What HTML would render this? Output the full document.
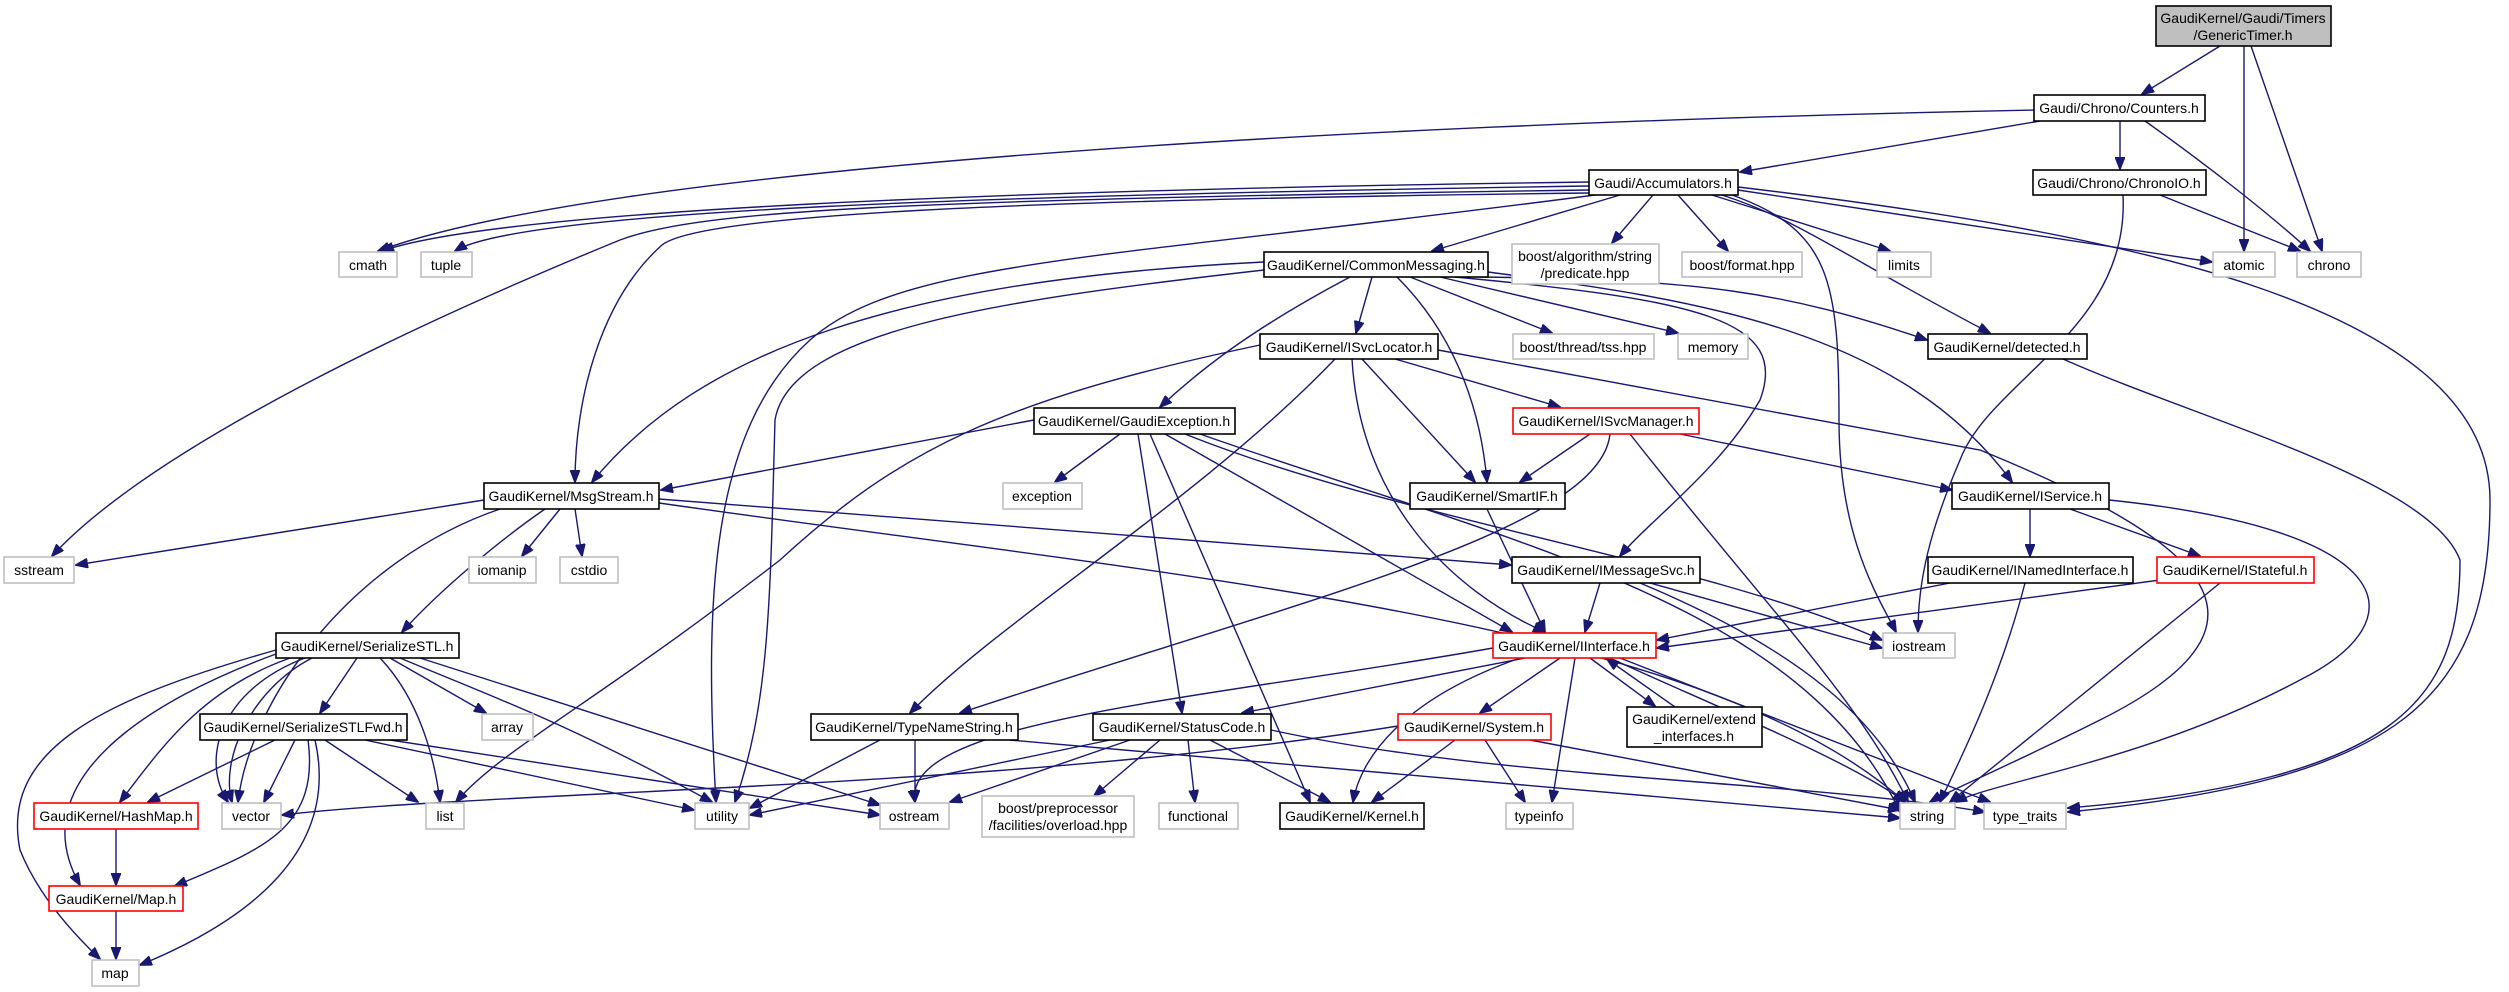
<!DOCTYPE html>
<html><head><meta charset="utf-8">
<style>
html,body{margin:0;padding:0;background:#fff;}
svg{display:block;}
text{font-family:"Liberation Sans",sans-serif;font-size:14px;fill:#000;text-anchor:middle;}
.e{fill:none;stroke:#191970;stroke-width:1.4;marker-end:url(#a);}
.b{fill:#fff;stroke:#000;stroke-width:1.6;}
.g{fill:#fff;stroke:#c0c0c0;stroke-width:1.6;}
.r{fill:#fff;stroke:#ff0000;stroke-width:1.6;}
</style></head>
<body>
<svg width="2509" height="992" viewBox="0 0 2509 992" xmlns="http://www.w3.org/2000/svg">
<defs><marker id="a" markerUnits="userSpaceOnUse" markerWidth="13" markerHeight="10" refX="12" refY="5" orient="auto"><path d="M0,0 L13,5 L0,10 z" fill="#191970" stroke="#191970"/></marker></defs>
<g>
<!-- GenericTimer -->
<path class="e" d="M2220,46 L2142,94"/>
<path class="e" d="M2244,46 L2244,251"/>
<path class="e" d="M2251,46 L2322,251"/>
<!-- Counters -->
<path class="e" d="M2034,110 C1300,125 600,170 378,251"/>
<path class="e" d="M2040,121 L1740,172"/>
<path class="e" d="M2120,121 L2120,169"/>
<path class="e" d="M2145,121 C2200,160 2265,210 2310,251"/>
<!-- ChronoIO -->
<path class="e" d="M2160,195 L2300,251"/>
<path class="e" d="M2123,195 C2130,330 1990,380 1960,460 C1930,530 1918,580 1918,632"/>
<!-- Accumulators -->
<path class="e" d="M1589,182 C1000,190 500,210 382,251"/>
<path class="e" d="M1589,186 C1000,195 520,210 455,251"/>
<path class="e" d="M1589,190 C900,200 700,210 620,240 C400,330 150,450 52,556"/>
<path class="e" d="M1589,193 C1000,200 700,215 662,245 C600,300 575,400 575,482"/>
<path class="e" d="M1595,195 C1100,260 900,260 810,340 C710,430 704,600 716,802"/>
<path class="e" d="M1620,195 L1432,251"/>
<path class="e" d="M1653,195 L1612,243"/>
<path class="e" d="M1678,195 L1728,251"/>
<path class="e" d="M1712,195 L1890,251"/>
<path class="e" d="M1738,190 L2212,262"/>
<path class="e" d="M1738,187 C2100,230 2490,300 2490,500 C2490,700 2400,780 2068,812"/>
<path class="e" d="M1722,195 C1800,220 1850,260 1990,333"/>
<path class="e" d="M1732,195 C1830,230 1839,280 1839,420 C1839,540 1880,600 1896,632"/>
<!-- CommonMessaging -->
<path class="e" d="M1264,262 C900,280 700,350 592,482"/>
<path class="e" d="M1264,270 C1000,300 790,330 775,420 C770,600 770,700 735,802"/>
<path class="e" d="M1372,277 L1356,333"/>
<path class="e" d="M1350,277 C1250,330 1200,370 1160,407"/>
<path class="e" d="M1397,277 C1450,330 1480,400 1487,482"/>
<path class="e" d="M1410,277 L1552,333"/>
<path class="e" d="M1440,277 L1678,333"/>
<path class="e" d="M1455,277 C1700,300 1790,320 1760,400 C1720,470 1650,520 1620,556"/>
<path class="e" d="M1480,277 C1700,280 1780,290 1927,340"/>
<path class="e" d="M1488,272 C1700,300 1900,330 2012,482"/>
<!-- ISvcLocator -->
<path class="e" d="M1260,345 C1000,400 900,450 780,560 C600,700 500,750 456,802"/>
<path class="e" d="M1335,359 C1200,500 1000,620 910,713"/>
<path class="e" d="M1352,359 C1360,500 1450,590 1545,632"/>
<path class="e" d="M1362,359 L1475,482"/>
<path class="e" d="M1395,359 L1560,407"/>
<path class="e" d="M1438,350 L1980,450 C2200,540 2300,620 2100,720 C2000,770 1950,790 1930,802"/>
<!-- GaudiException -->
<path class="e" d="M1034,420 L661,490"/>
<path class="e" d="M1120,434 L1055,482"/>
<path class="e" d="M1138,434 L1182,713"/>
<path class="e" d="M1150,434 L1310,802"/>
<path class="e" d="M1165,434 L1512,632"/>
<path class="e" d="M1185,434 C1400,520 1700,560 1882,640"/>
<path class="e" d="M1200,434 C1500,540 1800,600 1900,812"/>
<!-- ISvcManager -->
<path class="e" d="M1590,434 L1520,482"/>
<path class="e" d="M1680,434 L1952,490"/>
<path class="e" d="M1610,434 C1600,530 1300,600 960,713"/>
<path class="e" d="M1630,434 C1760,600 1860,700 1908,802"/>
<!-- MsgStream -->
<path class="e" d="M484,500 L76,565"/>
<path class="e" d="M500,509 C350,560 250,700 238,802"/>
<path class="e" d="M545,509 C500,540 440,590 402,632"/>
<path class="e" d="M560,509 L522,556"/>
<path class="e" d="M575,509 L582,556"/>
<path class="e" d="M659,499 L1511,565"/>
<path class="e" d="M659,503 C1200,580 1700,620 1905,802"/>
<!-- SmartIF etc -->
<path class="e" d="M1487,509 L1545,632"/>
<path class="e" d="M2030,509 L2030,556"/>
<path class="e" d="M2070,509 L2200,556"/>
<path class="e" d="M2109,500 C2400,530 2420,620 2300,680 C2150,760 2000,780 1955,802"/>
<path class="e" d="M1600,583 L1585,632"/>
<path class="e" d="M1650,583 L1882,648"/>
<path class="e" d="M1640,583 C1800,650 1880,720 1915,802"/>
<path class="e" d="M1950,583 L1657,640"/>
<path class="e" d="M2025,583 C2000,680 1960,760 1940,802"/>
<path class="e" d="M2160,580 L1657,648"/>
<path class="e" d="M2220,583 L1950,802"/>
<path class="e" d="M2063,359 C2200,420 2430,480 2460,560 C2460,700 2400,780 2068,808"/>
<!-- IInterface -->
<path class="e" d="M1493,648 C1200,700 900,720 915,802"/>
<path class="e" d="M1525,658 L1242,713"/>
<path class="e" d="M1560,658 L1480,713"/>
<path class="e" d="M1520,658 C1400,700 1360,760 1353,802"/>
<path class="e" d="M1575,658 L1552,802"/>
<path class="e" d="M1590,658 L1655,706"/>
<path class="e" d="M1675,707 L1607,659"/>
<path class="e" d="M1620,658 L1990,802"/>
<path class="e" d="M1610,658 C1700,700 1850,760 1905,802"/>
<!-- SerializeSTL -->
<path class="e" d="M276,650 C100,700 0,750 20,850 C40,900 80,940 100,959"/>
<path class="e" d="M276,654 C150,700 20,780 80,885"/>
<path class="e" d="M290,658 C200,690 160,750 120,802"/>
<path class="e" d="M305,658 C220,690 200,760 228,802"/>
<path class="e" d="M312,658 C250,690 220,760 232,802"/>
<path class="e" d="M357,658 L320,713"/>
<path class="e" d="M380,658 C420,700 435,760 440,802"/>
<path class="e" d="M390,658 L486,713"/>
<path class="e" d="M400,658 C500,700 560,720 712,802"/>
<path class="e" d="M420,658 L880,805"/>
<!-- SerializeSTLFwd -->
<path class="e" d="M275,740 L148,802"/>
<path class="e" d="M295,740 L264,802"/>
<path class="e" d="M308,740 C320,830 260,850 175,886"/>
<path class="e" d="M315,740 C340,850 250,920 140,965"/>
<path class="e" d="M325,740 L418,802"/>
<path class="e" d="M365,740 L694,810"/>
<path class="e" d="M390,740 L880,815"/>
<path class="e" d="M116,829 L116,885"/>
<path class="e" d="M116,911 L116,959"/>
<!-- TypeNameString, StatusCode, System -->
<path class="e" d="M915,740 L915,802"/>
<path class="e" d="M880,740 L750,808"/>
<path class="e" d="M1010,740 L1900,818"/>
<path class="e" d="M1130,740 L950,802"/>
<path class="e" d="M1110,740 L750,815"/>
<path class="e" d="M1160,740 L1094,796"/>
<path class="e" d="M1188,740 L1195,802"/>
<path class="e" d="M1210,740 L1330,802"/>
<path class="e" d="M1271,730 C1500,780 1800,780 1985,812"/>
<path class="e" d="M1398,726 C1000,790 500,790 282,815"/>
<path class="e" d="M1455,740 L1372,802"/>
<path class="e" d="M1485,740 L1525,802"/>
<path class="e" d="M1530,740 L1900,810"/>
</g>
<g>
<rect x="2156" y="6" width="175" height="40" style="fill:#bfbfbf;stroke:#000;stroke-width:1.6"/>
<text x="2243" y="23">GaudiKernel/Gaudi/Timers</text><text x="2243" y="40">/GenericTimer.h</text>
<rect class="b" x="2034" y="95" width="171" height="26"/><text x="2119" y="113">Gaudi/Chrono/Counters.h</text>
<rect class="b" x="2033" y="170" width="173" height="25"/><text x="2119" y="188">Gaudi/Chrono/ChronoIO.h</text>
<rect class="b" x="1589" y="170" width="149" height="25"/><text x="1663" y="188">Gaudi/Accumulators.h</text>
<rect class="g" x="339" y="252" width="58" height="25"/><text x="368" y="270">cmath</text>
<rect class="g" x="421" y="252" width="51" height="25"/><text x="446" y="270">tuple</text>
<rect class="g" x="1512" y="244" width="147" height="40"/><text x="1585" y="261">boost/algorithm/string</text><text x="1585" y="278">/predicate.hpp</text>
<rect class="g" x="1682" y="252" width="120" height="25"/><text x="1742" y="270">boost/format.hpp</text>
<rect class="g" x="1877" y="252" width="54" height="25"/><text x="1904" y="270">limits</text>
<rect class="g" x="2213" y="252" width="62" height="25"/><text x="2244" y="270">atomic</text>
<rect class="g" x="2297" y="252" width="64" height="25"/><text x="2329" y="270">chrono</text>
<rect class="b" x="1264" y="252" width="224" height="25"/><text x="1376" y="270">GaudiKernel/CommonMessaging.h</text>
<rect class="b" x="1260" y="334" width="178" height="25"/><text x="1349" y="352">GaudiKernel/ISvcLocator.h</text>
<rect class="g" x="1513" y="334" width="141" height="25"/><text x="1583" y="352">boost/thread/tss.hpp</text>
<rect class="g" x="1678" y="334" width="70" height="25"/><text x="1713" y="352">memory</text>
<rect class="b" x="1928" y="334" width="159" height="25"/><text x="2007" y="352">GaudiKernel/detected.h</text>
<rect class="b" x="1034" y="408" width="201" height="26"/><text x="1134" y="426">GaudiKernel/GaudiException.h</text>
<rect class="r" x="1513" y="408" width="186" height="26"/><text x="1606" y="426">GaudiKernel/ISvcManager.h</text>
<rect class="b" x="484" y="483" width="175" height="26"/><text x="571" y="501">GaudiKernel/MsgStream.h</text>
<rect class="g" x="1003" y="483" width="79" height="26"/><text x="1042" y="501">exception</text>
<rect class="b" x="1410" y="483" width="155" height="26"/><text x="1487" y="501">GaudiKernel/SmartIF.h</text>
<rect class="b" x="1952" y="483" width="157" height="26"/><text x="2030" y="501">GaudiKernel/IService.h</text>
<rect class="g" x="4" y="557" width="70" height="26"/><text x="39" y="575">sstream</text>
<rect class="g" x="469" y="557" width="67" height="26"/><text x="502" y="575">iomanip</text>
<rect class="g" x="560" y="557" width="58" height="26"/><text x="589" y="575">cstdio</text>
<rect class="b" x="1512" y="557" width="188" height="26"/><text x="1606" y="575">GaudiKernel/IMessageSvc.h</text>
<rect class="b" x="1928" y="557" width="205" height="26"/><text x="2030" y="575">GaudiKernel/INamedInterface.h</text>
<rect class="r" x="2157" y="557" width="157" height="26"/><text x="2235" y="575">GaudiKernel/IStateful.h</text>
<rect class="b" x="276" y="633" width="183" height="25"/><text x="367" y="651">GaudiKernel/SerializeSTL.h</text>
<rect class="r" x="1493" y="633" width="163" height="25"/><text x="1574" y="651">GaudiKernel/IInterface.h</text>
<rect class="g" x="1883" y="633" width="72" height="25"/><text x="1919" y="651">iostream</text>
<rect class="b" x="200" y="714" width="207" height="26"/><text x="303" y="732">GaudiKernel/SerializeSTLFwd.h</text>
<rect class="g" x="482" y="714" width="51" height="26"/><text x="507" y="732">array</text>
<rect class="b" x="811" y="714" width="207" height="26"/><text x="914" y="732">GaudiKernel/TypeNameString.h</text>
<rect class="b" x="1093" y="714" width="178" height="26"/><text x="1182" y="732">GaudiKernel/StatusCode.h</text>
<rect class="r" x="1398" y="714" width="153" height="26"/><text x="1474" y="732">GaudiKernel/System.h</text>
<rect class="b" x="1627" y="707" width="135" height="40"/><text x="1694" y="724">GaudiKernel/extend</text><text x="1694" y="741">_interfaces.h</text>
<rect class="r" x="34" y="803" width="164" height="26"/><text x="116" y="821">GaudiKernel/HashMap.h</text>
<rect class="g" x="222" y="803" width="59" height="26"/><text x="251" y="821">vector</text>
<rect class="g" x="426" y="803" width="38" height="26"/><text x="445" y="821">list</text>
<rect class="g" x="695" y="803" width="54" height="26"/><text x="722" y="821">utility</text>
<rect class="g" x="880" y="803" width="69" height="26"/><text x="914" y="821">ostream</text>
<rect class="g" x="982" y="796" width="152" height="41"/><text x="1058" y="813">boost/preprocessor</text><text x="1058" y="830">/facilities/overload.hpp</text>
<rect class="g" x="1159" y="803" width="79" height="26"/><text x="1198" y="821">functional</text>
<rect class="b" x="1280" y="803" width="144" height="26"/><text x="1352" y="821">GaudiKernel/Kernel.h</text>
<rect class="g" x="1506" y="803" width="67" height="26"/><text x="1539" y="821">typeinfo</text>
<rect class="g" x="1900" y="803" width="55" height="26"/><text x="1927" y="821">string</text>
<rect class="g" x="1984" y="803" width="82" height="26"/><text x="2025" y="821">type_traits</text>
<rect class="r" x="49" y="886" width="134" height="25"/><text x="116" y="904">GaudiKernel/Map.h</text>
<rect class="g" x="92" y="960" width="47" height="26"/><text x="115" y="978">map</text>
</g>
</svg>
</body></html>
